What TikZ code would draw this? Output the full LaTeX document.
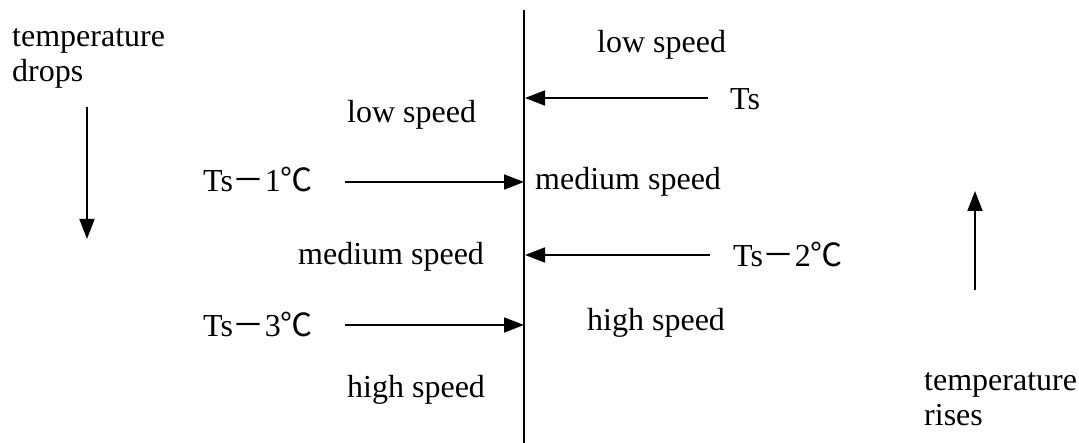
\documentclass[tikz,border=0pt]{standalone}
\usepackage{fontspec}
\setmainfont{Liberation Serif}
\newfontfamily\cjk{Noto Sans CJK SC}
\usetikzlibrary{arrows.meta}
\newcommand{\fwm}{{\cjk －}}
\newcommand{\degc}{{\cjk ℃}}
\tikzset{
  lbl/.style={inner sep=0pt, anchor=base west, font=\fontsize{32}{35}\selectfont},
  twoline/.style={inner sep=0pt, anchor=north west, align=left, font=\fontsize{32}{35}\selectfont},
  arr/.style={line width=1.8pt, -{Triangle[length=20pt,width=15pt]}},
  axis/.style={line width=1.8pt}
}
\begin{document}
\begin{tikzpicture}[x=1pt,y=-1pt]
\useasboundingbox[fill=white] (0,0) rectangle (1079,443);
% central line
\coordinate (vtop) at (524,10);
\coordinate (vbot) at (524,443);
\draw[axis] (vtop) -- (vbot);
% right labels
\node[lbl] (lowR) at (597,53) {low speed};
\node[lbl] (ts) at (730,110) {Ts};
\node[lbl] (medR) at (535,190) {medium speed};
\node[lbl] (ts2) at (733,267) {Ts\fwm 2\degc};
\node[lbl] (highR) at (587,331) {high speed};
% left labels
\node[lbl] (lowL) at (347,123) {low speed};
\node[lbl] (ts1) at (203,192) {Ts\fwm 1\degc};
\node[lbl] (medL) at (298,265) {medium speed};
\node[lbl] (ts3) at (203,337) {Ts\fwm 3\degc};
\node[lbl] (highL) at (347,398) {high speed};
% arrows to the line
\coordinate (a0s) at (708,98);  \coordinate (a0e) at (525,98);
\coordinate (a1s) at (345,182); \coordinate (a1e) at (524,182);
\coordinate (a2s) at (710,255); \coordinate (a2e) at (525,255);
\coordinate (a3s) at (345,325); \coordinate (a3e) at (524,325);
\draw[arr] (a0s) -- (a0e);
\draw[arr] (a1s) -- (a1e);
\draw[arr] (a2s) -- (a2e);
\draw[arr] (a3s) -- (a3e);
% temperature drops
\node[twoline] (drops) at (12,28) {temperature\\drops};
\coordinate (d0) at (87,107); \coordinate (d1) at (87,239);
\draw[arr] (d0) -- (d1);
% temperature rises
\node[twoline] (rises) at (924,372) {temperature\\rises};
\coordinate (r0) at (975,290); \coordinate (r1) at (975,191);
\draw[arr] (r0) -- (r1);
\end{tikzpicture}
\end{document}
